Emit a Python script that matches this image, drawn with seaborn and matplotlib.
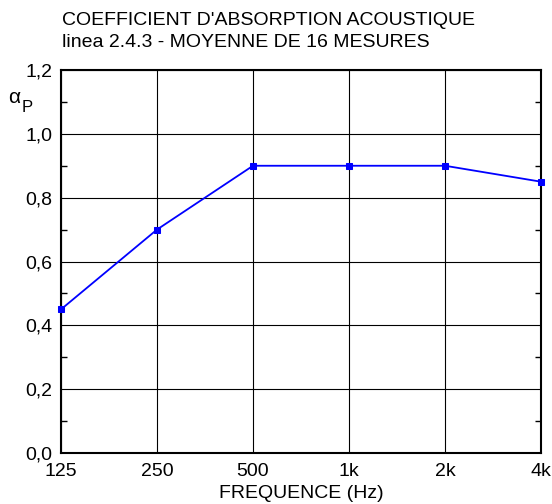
import matplotlib
matplotlib.use("Agg")
import matplotlib.pyplot as plt
import seaborn as sns
import numpy as np
from matplotlib.ticker import FixedLocator, MultipleLocator

FREQUENCIES = [125, 250, 500, 1000, 2000, 4000]
FREQ_LABELS = ["125", "250", "500", "1k", "2k", "4k"]
ALPHA_P = [0.45, 0.70, 0.90, 0.90, 0.90, 0.85]
Y_TICKS = [0.0, 0.2, 0.4, 0.6, 0.8, 1.0, 1.2]
Y_LABELS = ["0,0", "0,2", "0,4", "0,6", "0,8", "1,0", "1,2"]

TITLE_1 = "COEFFICIENT D'ABSORPTION ACOUSTIQUE"
TITLE_2 = "linea 2.4.3 - MOYENNE DE 16 MESURES"

sns.set_style("white")
plt.rcParams["font.family"] = ["Liberation Sans", "DejaVu Sans"]
plt.rcParams["text.color"] = "black"

fig = plt.figure(figsize=(5.52, 5.04), dpi=100)
ax = fig.add_axes([61 / 552, 1 - 453 / 504, 480 / 552, 383 / 504])

sns.lineplot(x=FREQUENCIES, y=ALPHA_P, ax=ax, color="#0000ff", linewidth=1.3,
             marker="s", markersize=5, markeredgecolor="#0000ff", zorder=5, clip_on=False)

ax.set_xscale("log", base=2)
ax.set_xlim(125, 4000)
ax.set_ylim(0, 1.2)
ax.xaxis.set_major_locator(FixedLocator(FREQUENCIES))
ax.xaxis.set_minor_locator(FixedLocator([]))
ax.set_xticklabels(FREQ_LABELS)
ax.set_yticks(Y_TICKS)
ax.set_yticklabels(Y_LABELS)
ax.yaxis.set_minor_locator(MultipleLocator(0.1))

ax.grid(True, which="major", color="black", linewidth=0.8)
ax.tick_params(axis="both", which="major", length=0, labelsize=14, labelcolor="black")
ax.tick_params(axis="x", pad=7)
ax.tick_params(axis="y", pad=6)
ax.tick_params(axis="y", which="minor", direction="in", length=4, width=1,
               left=True, right=True, color="black")
for spine in ax.spines.values():
    spine.set_visible(True)
    spine.set_color("black")
    spine.set_linewidth(1.5)

# 0,0 sits a bit higher than the rest in the original
ax.get_yticklabels()[0].set_y(0.012)

ax.set_xlabel("FREQUENCE (Hz)", fontsize=14, labelpad=4, color="black")
ax.set_ylabel("")

fig.text(62 / 552, 1 - 25 / 504, TITLE_1, fontsize=14, ha="left", va="baseline")
fig.text(62 / 552, 1 - 47 / 504, TITLE_2, fontsize=14, ha="left", va="baseline")
# alpha with subscript P
fig.text(8 / 552, 1 - 103 / 504, "α", fontsize=15, ha="left", va="baseline")
fig.text(22 / 552, 1 - 112 / 504, "P", fontsize=12, ha="left", va="baseline")

fig.savefig("out.png", dpi=100)
